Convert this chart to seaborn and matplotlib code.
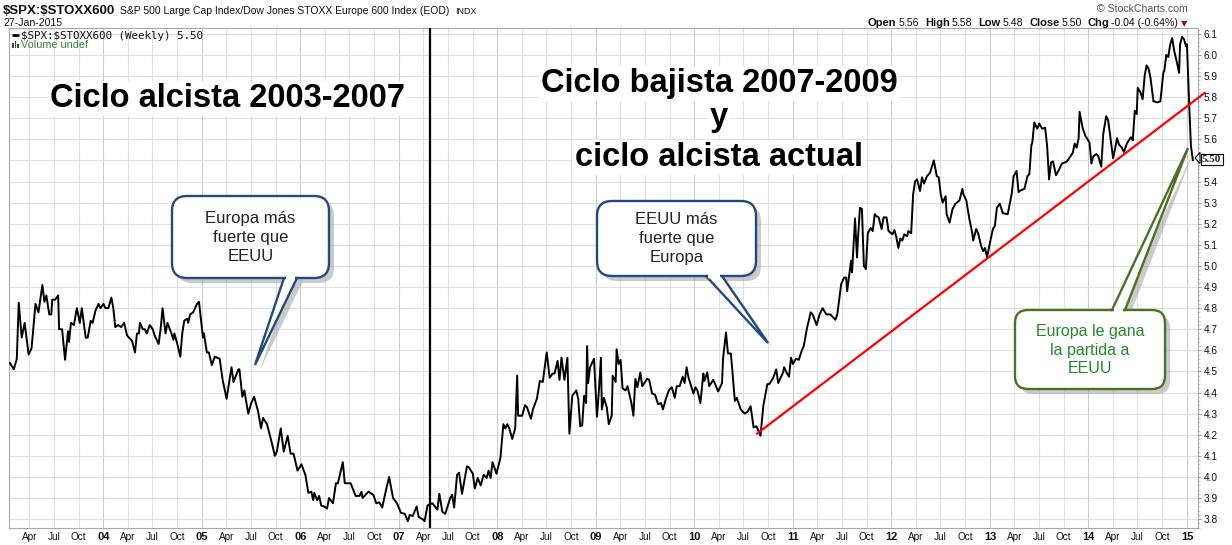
import matplotlib
matplotlib.use("Agg")
import matplotlib.pyplot as plt
import seaborn as sns
import numpy as np
import pandas as pd
from matplotlib.patches import FancyBboxPatch, Polygon, Rectangle

# ---------------- data ----------------
years = [
    2003.05, 2003.09, 2003.12, 2003.14, 2003.17, 2003.20, 2003.24, 2003.27, 2003.31, 2003.34,
    2003.37, 2003.38, 2003.40, 2003.42, 2003.45, 2003.47, 2003.48, 2003.51, 2003.54, 2003.55,
    2003.58, 2003.61, 2003.64, 2003.65, 2003.67, 2003.70, 2003.73, 2003.76, 2003.78, 2003.82,
    2003.84, 2003.87, 2003.89, 2003.92, 2003.95, 2003.97, 2004.00, 2004.02, 2004.05, 2004.08,
    2004.10, 2004.12, 2004.15, 2004.18, 2004.21, 2004.24, 2004.29, 2004.32, 2004.34, 2004.36,
    2004.37, 2004.40, 2004.42, 2004.44, 2004.47, 2004.50, 2004.52, 2004.56, 2004.58, 2004.60,
    2004.63, 2004.65, 2004.69, 2004.71, 2004.72, 2004.75, 2004.78, 2004.80, 2004.82, 2004.85,
    2004.86, 2004.88, 2004.91, 2004.95, 2004.97, 2005.01, 2005.02, 2005.05, 2005.07, 2005.10,
    2005.13, 2005.18, 2005.21, 2005.25, 2005.30, 2005.32, 2005.37, 2005.38, 2005.41, 2005.43,
    2005.47, 2005.50, 2005.53, 2005.57, 2005.60, 2005.62, 2005.66, 2005.71, 2005.74, 2005.76,
    2005.80, 2005.83, 2005.87, 2005.90, 2005.93, 2005.97, 2006.01, 2006.05, 2006.08, 2006.11,
    2006.13, 2006.14, 2006.17, 2006.19, 2006.21, 2006.24, 2006.27, 2006.29, 2006.33, 2006.36,
    2006.38, 2006.40, 2006.43, 2006.45, 2006.51, 2006.56, 2006.60, 2006.62, 2006.63, 2006.69,
    2006.74, 2006.77, 2006.80, 2006.83, 2006.86, 2006.90, 2006.94, 2006.98, 2007.02, 2007.06,
    2007.09, 2007.11, 2007.14, 2007.18, 2007.20, 2007.24, 2007.26, 2007.29, 2007.34, 2007.39,
    2007.41, 2007.44, 2007.47, 2007.52, 2007.54, 2007.56, 2007.59, 2007.61, 2007.64, 2007.69,
    2007.71, 2007.75, 2007.77, 2007.80, 2007.83, 2007.86, 2007.89, 2007.91, 2007.93, 2007.95,
    2007.99, 2008.03, 2008.06, 2008.08, 2008.10, 2008.12, 2008.15, 2008.18, 2008.20, 2008.21,
    2008.25, 2008.28, 2008.30, 2008.34, 2008.36, 2008.40, 2008.43, 2008.46, 2008.50, 2008.53,
    2008.56, 2008.58, 2008.61, 2008.63, 2008.65, 2008.68, 2008.71, 2008.73, 2008.76, 2008.80,
    2008.82, 2008.84, 2008.86, 2008.88, 2008.90, 2008.91, 2008.92, 2008.94, 2008.98, 2009.01,
    2009.03, 2009.05, 2009.06, 2009.08, 2009.11, 2009.13, 2009.16, 2009.17, 2009.20, 2009.21,
    2009.23, 2009.25, 2009.27, 2009.30, 2009.32, 2009.36, 2009.38, 2009.40, 2009.42, 2009.45,
    2009.47, 2009.52, 2009.54, 2009.57, 2009.60, 2009.63, 2009.66, 2009.68, 2009.71, 2009.74,
    2009.77, 2009.80, 2009.82, 2009.85, 2009.88, 2009.90, 2009.92, 2009.94, 2009.99, 2010.01,
    2010.03, 2010.06, 2010.09, 2010.10, 2010.13, 2010.15, 2010.19, 2010.21, 2010.24, 2010.28,
    2010.29, 2010.32, 2010.34, 2010.37, 2010.41, 2010.43, 2010.47, 2010.51, 2010.54, 2010.57,
    2010.60, 2010.63, 2010.67, 2010.70, 2010.74, 2010.76, 2010.80, 2010.83, 2010.85, 2010.90,
    2010.91, 2010.94, 2010.96, 2010.98, 2011.00, 2011.03, 2011.06, 2011.09, 2011.11, 2011.14,
    2011.18, 2011.20, 2011.24, 2011.27, 2011.30, 2011.34, 2011.38, 2011.43, 2011.45, 2011.49,
    2011.52, 2011.54, 2011.55, 2011.59, 2011.60, 2011.63, 2011.65, 2011.66, 2011.68, 2011.70,
    2011.72, 2011.74, 2011.76, 2011.79, 2011.81, 2011.83, 2011.85, 2011.87, 2011.90, 2011.92,
    2011.95, 2011.97, 2012.01, 2012.03, 2012.05, 2012.07, 2012.09, 2012.11, 2012.13, 2012.16,
    2012.17, 2012.20, 2012.22, 2012.24, 2012.26, 2012.29, 2012.31, 2012.33, 2012.36, 2012.39,
    2012.43, 2012.46, 2012.48, 2012.50, 2012.52, 2012.55, 2012.56, 2012.59, 2012.62, 2012.65,
    2012.69, 2012.72, 2012.73, 2012.76, 2012.79, 2012.82, 2012.83, 2012.86, 2012.88, 2012.91,
    2012.93, 2012.95, 2012.97, 2013.00, 2013.03, 2013.05, 2013.07, 2013.10, 2013.13, 2013.18,
    2013.22, 2013.24, 2013.27, 2013.29, 2013.32, 2013.35, 2013.38, 2013.40, 2013.42, 2013.43,
    2013.45, 2013.48, 2013.50, 2013.53, 2013.56, 2013.58, 2013.60, 2013.62, 2013.64, 2013.67,
    2013.70, 2013.73, 2013.76, 2013.78, 2013.81, 2013.84, 2013.86, 2013.88, 2013.90, 2013.91,
    2013.94, 2013.97, 2014.01, 2014.03, 2014.05, 2014.08, 2014.10, 2014.13, 2014.15, 2014.18,
    2014.20, 2014.23, 2014.25, 2014.27, 2014.29, 2014.31, 2014.34, 2014.36, 2014.39, 2014.41,
    2014.43, 2014.45, 2014.47, 2014.49, 2014.50, 2014.53, 2014.55, 2014.57, 2014.59, 2014.61,
    2014.63, 2014.66, 2014.70, 2014.73, 2014.76, 2014.77, 2014.79, 2014.81, 2014.83, 2014.85,
    2014.87, 2014.90, 2014.92, 2014.93, 2014.95, 2014.97, 2014.99, 2015.00, 2015.02, 2015.04,
    2015.06,
]
ratio = [
    4.54, 4.51, 4.56, 4.825, 4.66, 4.73, 4.58, 4.61, 4.82, 4.78,
    4.88, 4.91, 4.83, 4.86, 4.77, 4.77, 4.84, 4.84, 4.86, 4.70,
    4.70, 4.555, 4.69, 4.64, 4.73, 4.72, 4.80, 4.73, 4.80, 4.66,
    4.66, 4.74, 4.73, 4.79, 4.82, 4.80, 4.82, 4.80, 4.80, 4.85,
    4.80, 4.71, 4.72, 4.71, 4.73, 4.67, 4.645, 4.59, 4.68, 4.68,
    4.73, 4.70, 4.70, 4.68, 4.72, 4.70, 4.67, 4.63, 4.70, 4.80,
    4.68, 4.73, 4.68, 4.65, 4.68, 4.63, 4.57, 4.68, 4.74, 4.75,
    4.73, 4.77, 4.78, 4.82, 4.83, 4.66, 4.68, 4.59, 4.59, 4.53,
    4.57, 4.56, 4.46, 4.37, 4.52, 4.45, 4.51, 4.51, 4.38, 4.41,
    4.30, 4.35, 4.38, 4.31, 4.23, 4.28, 4.25, 4.16, 4.10, 4.12,
    4.23, 4.12, 4.195, 4.11, 4.11, 4.03, 4.06, 4.01, 3.925, 3.93,
    3.89, 3.925, 3.89, 3.91, 3.865, 3.86, 3.85, 3.90, 3.875, 3.97,
    3.97, 4.01, 4.07, 3.97, 3.97, 3.91, 3.91, 3.93, 3.90, 3.93,
    3.915, 3.875, 3.88, 3.855, 3.92, 4.00, 3.90, 3.875, 3.83, 3.825,
    3.79, 3.82, 3.815, 3.86, 3.81, 3.80, 3.79, 3.865, 3.875, 3.845,
    3.92, 3.835, 3.825, 3.90, 3.915, 3.855, 4.01, 4.02, 3.92, 4.05,
    4.045, 4.015, 3.945, 3.995, 3.96, 4.01, 3.995, 4.03, 3.995, 4.07,
    4.015, 4.09, 4.25, 4.23, 4.25, 4.23, 4.18, 4.23, 4.48, 4.29,
    4.29, 4.34, 4.33, 4.275, 4.32, 4.37, 4.455, 4.45, 4.59, 4.47,
    4.49, 4.49, 4.55, 4.46, 4.565, 4.46, 4.565, 4.205, 4.385, 4.41,
    4.37, 4.24, 4.245, 4.385, 4.35, 4.62, 4.445, 4.52, 4.56, 4.285,
    4.41, 4.565, 4.32, 4.375, 4.33, 4.25, 4.29, 4.48, 4.45, 4.605,
    4.535, 4.555, 4.42, 4.41, 4.43, 4.35, 4.29, 4.465, 4.425, 4.495,
    4.43, 4.465, 4.46, 4.395, 4.39, 4.345, 4.35, 4.32, 4.37, 4.41,
    4.425, 4.375, 4.43, 4.43, 4.475, 4.445, 4.52, 4.47, 4.395, 4.425,
    4.41, 4.35, 4.49, 4.455, 4.495, 4.43, 4.46, 4.44, 4.405, 4.445,
    4.56, 4.685, 4.585, 4.585, 4.36, 4.375, 4.32, 4.30, 4.31, 4.335,
    4.235, 4.24, 4.195, 4.34, 4.44, 4.44, 4.47, 4.51, 4.445, 4.495,
    4.52, 4.49, 4.475, 4.565, 4.535, 4.56, 4.555, 4.60, 4.62, 4.70,
    4.78, 4.77, 4.72, 4.77, 4.80, 4.77, 4.77, 4.745, 4.77, 4.915,
    4.945, 4.945, 4.88, 5.025, 4.97, 5.225, 5.04, 5.13, 5.275, 5.27,
    5.00, 4.985, 5.155, 5.18, 5.165, 5.245, 5.235, 5.23, 5.175, 5.23,
    5.23, 5.165, 5.15, 5.17, 5.135, 5.085, 5.13, 5.12, 5.15, 5.14,
    5.165, 5.155, 5.34, 5.40, 5.41, 5.355, 5.42, 5.39, 5.425, 5.44,
    5.50, 5.425, 5.42, 5.34, 5.30, 5.33, 5.245, 5.205, 5.27, 5.295,
    5.31, 5.365, 5.34, 5.31, 5.225, 5.155, 5.12, 5.175, 5.155, 5.095,
    5.07, 5.085, 5.04, 5.11, 5.175, 5.19, 5.275, 5.295, 5.25, 5.245,
    5.34, 5.425, 5.45, 5.35, 5.36, 5.365, 5.425, 5.435, 5.57, 5.585,
    5.68, 5.65, 5.675, 5.65, 5.655, 5.57, 5.41, 5.49, 5.495, 5.43,
    5.455, 5.485, 5.49, 5.495, 5.515, 5.535, 5.58, 5.56, 5.605, 5.73,
    5.655, 5.615, 5.585, 5.485, 5.52, 5.53, 5.52, 5.47, 5.625, 5.71,
    5.69, 5.58, 5.51, 5.555, 5.605, 5.575, 5.56, 5.54, 5.58, 5.595,
    5.61, 5.595, 5.735, 5.72, 5.845, 5.82, 5.79, 5.90, 5.95, 5.935,
    5.89, 5.78, 5.775, 5.78, 5.915, 5.925, 6.00, 5.99, 6.05, 6.08,
    6.02, 5.96, 5.915, 6.05, 6.085, 6.075, 6.04, 6.05, 5.795, 5.57,
    5.50,
]

trend_years = [2010.635, 2015.18]
trend_vals = [4.205, 5.82]
cycle_split_year = 2007.315
last_value = 5.50

ytick_vals = [3.8, 3.9, 4.0, 4.1, 4.2, 4.3, 4.4, 4.5, 4.6, 4.7, 4.8, 4.9,
              5.0, 5.1, 5.2, 5.3, 5.4, 5.5, 5.6, 5.7, 5.8, 5.9, 6.0, 6.1]
month_names = ["Apr", "Jul", "Oct"]
month_frac = [0.247, 0.496, 0.748]
first_year, last_year = 2003, 2015

# ---------------- style ----------------
sns.set_style("white")
plt.rcParams["font.family"] = ["Liberation Sans", "DejaVu Sans"]

W, H = 1232, 545
fig = plt.figure(figsize=(W / 100, H / 100), dpi=100)
fig.patch.set_facecolor("white")
ax = fig.add_axes([9 / W, 17 / H, 1189 / W, 500 / H])

df = pd.DataFrame({"year": years, "ratio": ratio})
sns.lineplot(data=df, x="year", y="ratio", ax=ax, color="black",
             linewidth=1.4, estimator=None, zorder=4)

ax.set_xlim(2003.041, 2015.112)
ax.set_ylim(3.758, 6.1275)
ax.set_xlabel("")
ax.set_ylabel("")

# x ticks
xt, xl, xbold = [], [], []
for y in range(first_year, last_year + 1):
    if y > first_year:
        xt.append(y); xl.append(f"{y % 100:02d}"); xbold.append(True)
    if y < last_year:
        for f, m in zip(month_frac, month_names):
            xt.append(y + f); xl.append(m); xbold.append(False)
ax.set_xticks(xt)
ax.set_xticklabels(xl, fontsize=7.2)
for lab, b in zip(ax.get_xticklabels(), xbold):
    if b:
        lab.set_fontweight("bold")
        lab.set_fontsize(8)
ax.tick_params(axis="x", length=0, pad=3, colors="#111111")
for p, b in zip(xt, xbold):
    ax.axvline(p, color="#cccccc" if b else "#e0e0e0", lw=0.8, zorder=0)

# y ticks on the right
ax.yaxis.tick_right()
ax.set_yticks(ytick_vals)
ax.set_yticklabels(["" if abs(v - last_value) < 1e-9 else f"{v:.1f}" for v in ytick_vals],
                   fontsize=7.3)
ax.set_yticks(np.arange(3.76, 6.13, 0.02), minor=True)
ax.tick_params(axis="y", which="major", length=2.5, width=0.6, color="#888888", pad=1.5,
               labelcolor="#111111")
ax.tick_params(axis="y", which="minor", length=1.2, width=0.5, color="#aaaaaa")
for v in ytick_vals:
    ax.axhline(v, color="#e0e0e0", lw=0.8, zorder=0)

for s in ax.spines.values():
    s.set_visible(True)
    s.set_color("#a8a8a8")
    s.set_linewidth(0.8)

# cycle split line and trend line
ax.axvline(cycle_split_year, color="black", lw=1.6, zorder=5)
ax.plot(trend_years, trend_vals, color="#ff0000", lw=1.6, zorder=6, clip_on=False)

# ---------------- overlay in pixel coordinates ----------------
ov = fig.add_axes([0, 0, 1, 1], zorder=10)
ov.set_xlim(0, W)
ov.set_ylim(H, 0)
ov.axis("off")
ov.patch.set_alpha(0)

fig.canvas.draw()
renderer = fig.canvas.get_renderer()


def row(items, x, y):
    for s, fs, w, c, fam, gap in items:
        kw = {"family": fam} if fam else {}
        t = ov.text(x, y, s, fontsize=fs, fontweight=w, color=c, ha="left", va="baseline",
                    parse_math=False, **kw)
        x += t.get_window_extent(renderer=renderer).width + gap
    return x


row([("$SPX:$STOXX600", 9.5, "bold", "#111111", None, 5),
     ("S&P 500 Large Cap Index/Dow Jones STOXX Europe 600 Index (EOD)", 7.5, "normal", "#111111", None, 5),
     ("INDX", 6.5, "normal", "#111111", None, 0)], 3, 13.5)
ov.text(3, 26, "27-Jan-2015", fontsize=7.6, color="#111111", va="baseline")

ov.text(1188, 12, "\u00a9 StockCharts.com", fontsize=7.6, color="#555555", ha="right", va="baseline")
row([("Open", 8, "bold", "#111111", None, 2), ("5.56", 7.6, "normal", "#111111", None, 6),
     ("High", 8, "bold", "#111111", None, 2), ("5.58", 7.6, "normal", "#111111", None, 6),
     ("Low", 8, "bold", "#111111", None, 2), ("5.48", 7.6, "normal", "#111111", None, 6),
     ("Close", 8, "bold", "#111111", None, 2), ("5.50", 7.6, "normal", "#111111", None, 6),
     ("Chg", 8, "bold", "#111111", None, 2), ("-0.04 (-0.64%)", 7.6, "normal", "#111111", None, 3),
     ("\u25bc", 6, "normal", "#8b1a3a", ["DejaVu Sans"], 0)], 868, 26)

# legend inside plot
ov.plot([12, 19], [35, 35], color="black", lw=2, solid_capstyle="butt")
ov.text(21, 39, "$SPX:$STOXX600 (Weekly) 5.50", fontsize=7.8, family="DejaVu Sans Mono",
        color="#111111", va="baseline", parse_math=False)
for bx, bh in [(12, 5), (14.5, 7), (17, 4)]:
    ov.add_patch(Rectangle((bx, 48 - bh), 1.8, bh, fc="#444444", ec="none"))
ov.text(21, 48, "Volume undef", fontsize=7.8, color="#3d7f3d", va="baseline")

# last-value tag
ov.add_patch(Polygon([(1195, 158), (1200, 152.5), (1200, 163.5)], fc="white", ec="black", lw=0.8, zorder=11))
ov.text(1202, 162, "5.50", fontsize=8, fontweight="bold", family="Liberation Serif", va="baseline",
        bbox=dict(boxstyle="square,pad=0.12", fc="white", ec="black", lw=0.8), zorder=12)

# big titles
title_kw = dict(fontsize=23.5, fontweight="bold", color="black", ha="center", va="baseline",
                bbox=dict(boxstyle="square,pad=0.05", fc="white", ec="none"))
ov.text(227, 107, "Ciclo alcista 2003-2007", **title_kw)
ov.text(719, 92, "Ciclo bajista 2007-2009", **title_kw)
ov.text(719, 126, "y", **title_kw)
ov.text(719, 166, "ciclo alcista actual", **title_kw)


def bubble(box, base, tip, ec, tc, lines, baselines, fs, rad):
    x0, y0, x1, y1 = box
    w, h = x1 - x0, y1 - y0
    style = f"round,pad=0,rounding_size={rad}"
    sh = 5
    ov.add_patch(FancyBboxPatch((x0 + sh, y0 + sh), w, h, boxstyle=style, fc="#a0a0a0",
                                ec="none", alpha=0.55, zorder=1))
    ov.add_patch(Polygon([(base[0][0] + sh, base[0][1] + sh), (tip[0] + sh, tip[1] + sh),
                          (base[1][0] + sh, base[1][1] + sh)], fc="#a0a0a0", ec="none",
                         alpha=0.55, zorder=1))
    ov.add_patch(FancyBboxPatch((x0, y0), w, h, boxstyle=style, fc="white", ec=ec, lw=1.7, zorder=2))
    ov.add_patch(Polygon([base[0], tip, base[1]], closed=True, fc="white", ec=ec, lw=1.7,
                         zorder=3, joinstyle="miter"))
    ov.plot([base[0][0] + 2, base[1][0] - 2], [base[0][1], base[1][1]], color="white", lw=3.2,
            zorder=4, solid_capstyle="butt")
    cx = (x0 + x1) / 2
    for s, yb in zip(lines, baselines):
        ov.text(cx, yb, s, fontsize=fs, color=tc, ha="center", va="baseline", zorder=5)


blue = "#234a7d"
green_edge = "#4b7124"
bubble((172, 196, 329, 278), [(284, 278), (297, 278)], (255, 365), blue, "#222222",
       ["Europa más", "fuerte que", "EEUU"], [223, 242, 261], 12, 15)
bubble((597, 201, 756, 276), [(706, 276), (722, 276)], (768, 343), blue, "#222222",
       ["EEUU más", "fuerte que", "Europa"], [224, 243, 262], 12, 15)
bubble((1015, 310, 1165, 389), [(1112, 310), (1125, 310)], (1188, 148), green_edge, "#22882a",
       ["Europa le gana", "la partida a", "EEUU"], [336, 355, 373], 11.5, 13)

fig.savefig("out.png", dpi=100, facecolor="white")
